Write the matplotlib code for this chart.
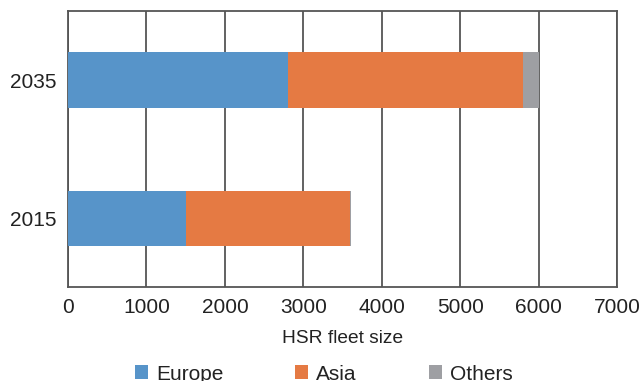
import matplotlib.pyplot as plt
import numpy as np

plt.rcParams['font.family'] = ['Liberation Sans', 'DejaVu Sans']

years = ['2015', '2035']
europe = [1500, 2800]
asia = [2090, 3000]
others = [20, 200]

cores = {'Europe': '#5794C9', 'Asia': '#E57A43', 'Others': '#9E9FA3'}

fig = plt.figure(figsize=(6.41, 3.81), dpi=100)
ax = fig.add_axes([0.106, 0.246, 0.857, 0.725])

y = np.arange(len(years))
esq = np.zeros(len(years))
for nome, vals in [('Europe', europe), ('Asia', asia), ('Others', others)]:
    ax.barh(y, vals, left=esq, height=0.4, color=cores[nome], label=nome,
            edgecolor='none', zorder=3)
    esq = esq + np.array(vals)

ax.set_xlim(0, 7000)
ax.set_ylim(-0.5, 1.5)
ax.set_xticks(range(0, 7001, 1000))
ax.set_yticks(y)
ax.set_yticklabels(years)
ax.tick_params(axis='both', length=0, labelsize=15, colors='#222222')
ax.tick_params(axis='y', pad=8)
ax.tick_params(axis='x', pad=8)
ax.grid(axis='x', color='#555555', linewidth=1.3, zorder=0)
for s in ax.spines.values():
    s.set_color('#555555')
    s.set_linewidth(1.3)

ax.set_xlabel('HSR fleet size', fontsize=13.8, color='#222222', labelpad=9)

# legenda presa ao fundo, meio cortada como na figura original
fig.legend(loc='center left', bbox_to_anchor=(135 / 641, 1 - 374 / 381), ncol=3,
           frameon=False, borderpad=0, borderaxespad=0,
           fontsize=15, handlelength=0.63, handleheight=0.63, handletextpad=0.38,
           columnspacing=3.45, labelcolor='#222222')

fig.savefig('out.png', dpi=100)
